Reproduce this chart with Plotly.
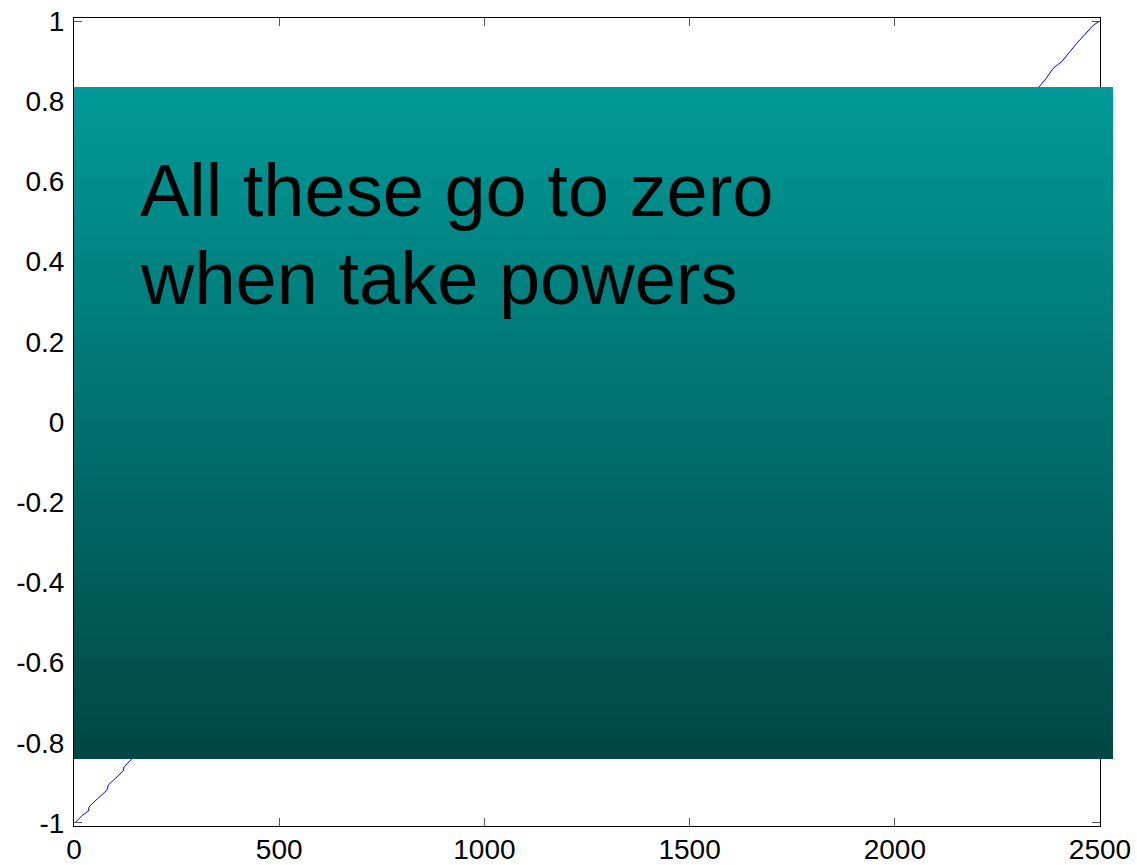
import plotly.graph_objects as go

# ---- data ----
eig_index = [2, 19, 35, 37, 80, 84, 120, 122, 141, 300, 600, 900, 1250, 1600, 1900, 2200,
             2351, 2366, 2386, 2407, 2443, 2469, 2484, 2500]
eig_value = [-1.0, -0.982, -0.970, -0.959, -0.918, -0.905, -0.870, -0.860, -0.840,
             -0.72, -0.49, -0.25, 0.0, 0.25, 0.48, 0.71,
             0.835, 0.853, 0.882, 0.899, 0.944, 0.973, 0.990, 1.0]
x_ticks = [0, 500, 1000, 1500, 2000, 2500]
y_ticks = [-1, -0.8, -0.6, -0.4, -0.2, 0, 0.2, 0.4, 0.6, 0.8, 1]
y_tick_text = ["-1", "-0.8", "-0.6", "-0.4", "-0.2", "0", "0.2", "0.4", "0.6", "0.8", "1"]
overlay_lines = ["All these go to zero", "when take powers"]

W, H = 1137, 865
L, R, T, B = 74, 37, 18, 39
plot_w = W - L - R
plot_h = H - T - B

fig = go.Figure()
fig.add_trace(go.Scatter(x=eig_index, y=eig_value, mode="lines",
                         line=dict(color="#0000FF", width=1), showlegend=False,
                         hoverinfo="skip"))

# gradient overlay box (pixel geometry -> paper coords)
box_left, box_right, box_top, box_bottom = 74, 1113, 87, 759
top_rgb = (0, 154, 152)
bot_rgb = (0, 70, 68)
n = 168
shapes = []
for i in range(n):
    t = i / (n - 1)
    r = round(top_rgb[0] + (bot_rgb[0] - top_rgb[0]) * t)
    g = round(top_rgb[1] + (bot_rgb[1] - top_rgb[1]) * t)
    b = round(top_rgb[2] + (bot_rgb[2] - top_rgb[2]) * t)
    py0 = box_top + (box_bottom - box_top) * i / n
    py1 = box_top + (box_bottom - box_top) * (i + 1) / n + 2.5
    shapes.append(dict(
        type="rect", xref="paper", yref="paper", layer="above",
        x0=(box_left - L) / plot_w, x1=(box_right - L) / plot_w,
        y0=(H - B - min(py1, box_bottom)) / plot_h, y1=(H - B - py0) / plot_h,
        line=dict(width=0), fillcolor=f"rgb({r},{g},{b})"))

annotations = []
for k, line_text in enumerate(overlay_lines):
    top_px = 147 + 88 * k
    annotations.append(dict(
        text=line_text, xref="paper", yref="paper",
        x=(138 - L) / plot_w, y=(H - B - top_px) / plot_h,
        xanchor="left", yanchor="top", align="left", showarrow=False,
        font=dict(family="Arial, Liberation Sans, sans-serif", size=74, color="black")))

fig.update_layout(
    width=W, height=H,
    margin=dict(l=L, r=R, t=T, b=B, pad=0, autoexpand=False),
    plot_bgcolor="white", paper_bgcolor="white",
    font=dict(family="Arial, Liberation Sans, sans-serif", size=28, color="black"),
    shapes=shapes,
    annotations=annotations,
)
fig.update_xaxes(range=[0, 2500], tickvals=x_ticks, ticktext=[str(v) for v in x_ticks],
                 showgrid=False, zeroline=False, showline=True, linecolor="black",
                 linewidth=1, mirror="ticks", ticks="inside", ticklen=8,
                 tickcolor="#555555", tickwidth=1, automargin=False,
                 ticklabelstandoff=-2)
fig.update_yaxes(range=[-1.0075, 1.0075], tickvals=y_ticks, ticktext=y_tick_text,
                 showgrid=False, zeroline=False, showline=True, linecolor="black",
                 linewidth=1, mirror="ticks", ticks="inside", ticklen=8,
                 tickcolor="#555555", tickwidth=1, automargin=False,
                 ticklabelstandoff=3)

fig.write_html("out.html", config={"displayModeBar": False},
               post_script="document.body.style.margin='0';document.body.style.overflow='hidden';")
